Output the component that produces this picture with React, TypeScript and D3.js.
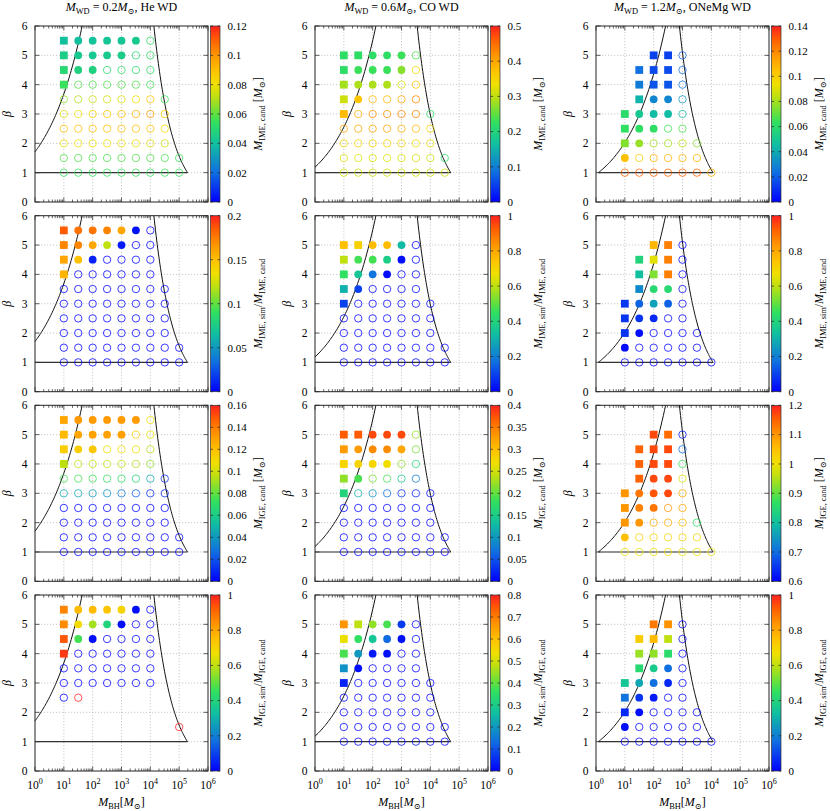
import React from 'react';
import * as d3 from 'd3';

type Row = { b: number; x0: number; m: string };
type Part = { t: string; s?: 'i' | 'sub' | 'sup' };

// white dwarf models, one per column
const wdMass = [0.2, 0.6, 1.2];
const wdName = ['He WD', 'CO WD', 'ONeMg WD'];
// log10(M_BH) where the right boundary reaches beta = 1
const rightEdge = [5.29, 4.71, 4.06];

// simulated grid: beta, first log10(M_BH), marker kind per half-decade step
// s = square, f = filled circle, o = open circle
const heGrid: Row[] = [
  { b: 5.5, x0: 1, m: 'sfffffo' },
  { b: 5, x0: 1, m: 'sffffoo' },
  { b: 4.5, x0: 1, m: 'sffoooo' },
  { b: 4, x0: 1, m: 'soooooo' },
  { b: 3.5, x0: 1, m: 'oooooooo' },
  { b: 3, x0: 1, m: 'oooooooo' },
  { b: 2.5, x0: 1, m: 'oooooooo' },
  { b: 2, x0: 1, m: 'oooooooo' },
  { b: 1.5, x0: 1, m: 'ooooooooo' },
  { b: 1, x0: 1, m: 'ooooooooo' },
];
const heIgeGrid: Row[] = [
  { b: 5.5, x0: 1, m: 'sfffffo' },
  { b: 5, x0: 1, m: 'sffffoo' },
  { b: 4.5, x0: 1, m: 'sffoooo' },
  { b: 4, x0: 1, m: 'soooooo' },
  { b: 3.5, x0: 1, m: 'ooooooo' },
  { b: 3, x0: 1, m: 'ooooooo' },
  { b: 2.5, x0: 1, m: 'oo' },
  { b: 1.5, x0: 5, m: 'o' },
];
const coGrid: Row[] = [
  { b: 5, x0: 1, m: 'ssfffo' },
  { b: 4.5, x0: 1, m: 'sffffo' },
  { b: 4, x0: 1, m: 'sfffoo' },
  { b: 3.5, x0: 1, m: 'sfoooo' },
  { b: 3, x0: 1, m: 'soooooo' },
  { b: 2.5, x0: 1, m: 'ooooooo' },
  { b: 2, x0: 1, m: 'ooooooo' },
  { b: 1.5, x0: 1, m: 'oooooooo' },
  { b: 1, x0: 1, m: 'oooooooo' },
];
const oneGrid: Row[] = [
  { b: 5, x0: 2, m: 'sso' },
  { b: 4.5, x0: 1.5, m: 'ssso' },
  { b: 4, x0: 1.5, m: 'ssso' },
  { b: 3.5, x0: 1.5, m: 'sffo' },
  { b: 3, x0: 1, m: 'sfffo' },
  { b: 2.5, x0: 1, m: 'sffoo' },
  { b: 2, x0: 1, m: 'sfoooo' },
  { b: 1.5, x0: 1, m: 'fooooo' },
  { b: 1, x0: 1, m: 'ooooooo' },
];

// He WD
const heImeCand = [
  [0.040, 0.040, 0.041, 0.042, 0.042, 0.043, 0.053],
  [0.045, 0.043, 0.043, 0.044, 0.045, 0.050, 0.053],
  [0.050, 0.047, 0.047, 0.051, 0.052, 0.052, 0.053],
  [0.055, 0.058, 0.058, 0.058, 0.058, 0.058, 0.056],
  [0.066, 0.070, 0.074, 0.075, 0.076, 0.080, 0.088, 0.056],
  [0.078, 0.080, 0.085, 0.088, 0.090, 0.092, 0.098, 0.088],
  [0.090, 0.090, 0.090, 0.090, 0.090, 0.090, 0.088, 0.082],
  [0.080, 0.080, 0.080, 0.080, 0.080, 0.080, 0.078, 0.075],
  [0.058, 0.058, 0.058, 0.058, 0.058, 0.058, 0.058, 0.058, 0.055],
  [0.055, 0.055, 0.055, 0.055, 0.055, 0.055, 0.055, 0.055, 0.055],
];
const heImeRatio = [
  [0.185, 0.178, 0.178, 0.172, 0.16, 0.005, 0],
  [0.172, 0.172, 0.16, 0.12, 0.008, 0, 0],
  [0.16, 0.15, 0.01, 0, 0, 0, 0],
  [0.155, 0, 0, 0, 0, 0, 0],
  [0, 0, 0, 0, 0, 0, 0, 0],
  [0, 0, 0, 0, 0, 0, 0, 0],
  [0, 0, 0, 0, 0, 0, 0, 0],
  [0, 0, 0, 0, 0, 0, 0, 0],
  [0, 0, 0, 0, 0, 0, 0, 0, 0],
  [0, 0, 0, 0, 0, 0, 0, 0, 0],
];
const heIgeCand = [
  [0.128, 0.132, 0.132, 0.132, 0.132, 0.132, 0.105],
  [0.122, 0.128, 0.13, 0.13, 0.13, 0.115, 0.105],
  [0.115, 0.115, 0.117, 0.108, 0.108, 0.105, 0.095],
  [0.095, 0.097, 0.097, 0.097, 0.097, 0.095, 0.088],
  [0.075, 0.075, 0.075, 0.073, 0.07, 0.065, 0.045, 0.012],
  [0.045, 0.045, 0.042, 0.038, 0.03, 0.022, 0.012, 0.008],
  [0, 0, 0, 0, 0, 0, 0, 0],
  [0, 0, 0, 0, 0, 0, 0, 0],
  [0, 0, 0, 0, 0, 0, 0, 0, 0],
  [0, 0, 0, 0, 0, 0, 0, 0, 0],
];
const heIgeRatio = [
  [0.86, 0.76, 0.76, 0.74, 0.7, 0.02, 0],
  [0.85, 0.68, 0.57, 0.4, 0.02, 0, 0],
  [0.93, 0.47, 0.02, 0, 0, 0, 0],
  [0.97, 0, 0, 0, 0, 0, 0],
  [0, 0, 0, 0, 0, 0, 0],
  [0, 0, 0, 0, 0, 0, 0],
  [0, 1],
  [1],
];

// CO WD
const coImeCand = [
  [0.22, 0.22, 0.22, 0.22, 0.23, 0.24],
  [0.22, 0.23, 0.23, 0.23, 0.27, 0.34],
  [0.285, 0.29, 0.29, 0.29, 0.32, 0.37],
  [0.31, 0.37, 0.38, 0.38, 0.4, 0.43],
  [0.38, 0.39, 0.42, 0.42, 0.43, 0.43, 0.22],
  [0.4, 0.4, 0.4, 0.4, 0.39, 0.38, 0.35],
  [0.35, 0.35, 0.35, 0.35, 0.35, 0.34, 0.33],
  [0.32, 0.32, 0.32, 0.32, 0.32, 0.32, 0.31, 0.22],
  [0.31, 0.31, 0.31, 0.31, 0.31, 0.31, 0.31, 0.31],
];
const coImeRatio = [
  [0.75, 0.71, 0.76, 0.76, 0.32, 0],
  [0.6, 0.47, 0.47, 0.38, 0.02, 0],
  [0.45, 0.35, 0.18, 0.02, 0, 0],
  [0.3, 0.1, 0, 0, 0, 0],
  [0.1, 0, 0, 0, 0, 0, 0],
  [0, 0, 0, 0, 0, 0, 0],
  [0, 0, 0, 0, 0, 0, 0],
  [0, 0, 0, 0, 0, 0, 0, 0],
  [0, 0, 0, 0, 0, 0, 0, 0],
];
const coIgeCand = [
  [0.37, 0.37, 0.38, 0.38, 0.38, 0.22],
  [0.33, 0.33, 0.34, 0.34, 0.32, 0.21],
  [0.28, 0.28, 0.28, 0.27, 0.22, 0.16],
  [0.22, 0.19, 0.21, 0.19, 0.15, 0.08],
  [0.16, 0.12, 0.1, 0.07, 0.03, 0.02, 0.01],
  [0, 0, 0, 0, 0, 0, 0],
  [0, 0, 0, 0, 0, 0, 0],
  [0, 0, 0, 0, 0, 0, 0, 0],
  [0, 0, 0, 0, 0, 0, 0, 0],
];
const coIgeRatio = [
  [0.67, 0.48, 0.44, 0.38, 0.07, 0],
  [0.53, 0.36, 0.28, 0.13, 0.02, 0],
  [0.38, 0.2, 0.03, 0.02, 0, 0],
  [0.19, 0.02, 0, 0, 0, 0],
  [0.04, 0, 0, 0, 0, 0, 0],
  [0, 0, 0, 0, 0, 0, 0],
  [0, 0, 0, 0, 0, 0, 0],
  [0, 0, 0, 0, 0, 0, 0, 0],
  [0, 0, 0, 0, 0, 0, 0, 0],
];

// ONeMg WD
const oneImeCand = [
  [0.014, 0.014, 0.02],
  [0.024, 0.016, 0.016, 0.022],
  [0.027, 0.018, 0.018, 0.025],
  [0.043, 0.03, 0.03, 0.035],
  [0.06, 0.05, 0.045, 0.045, 0.045],
  [0.063, 0.062, 0.062, 0.065, 0.067],
  [0.075, 0.078, 0.08, 0.08, 0.085, 0.075],
  [0.105, 0.1, 0.108, 0.108, 0.108, 0.108],
  [0.128, 0.128, 0.128, 0.128, 0.128, 0.128, 0.11],
];
const oneImeRatio = [
  [0.77, 0.87, 0],
  [0.4, 0.65, 0.87, 0],
  [0.33, 0.53, 0.87, 0],
  [0.22, 0.42, 0.42, 0],
  [0.08, 0.15, 0.27, 0.15, 0],
  [0.08, 0.08, 0.06, 0, 0],
  [0.08, 0.02, 0, 0, 0, 0],
  [0.02, 0, 0, 0, 0, 0],
  [0, 0, 0, 0, 0, 0, 0],
];
const oneIgeCand = [
  [1.17, 1.14, 0.62],
  [1.15, 1.17, 1.17, 0.7],
  [1.15, 1.17, 1.17, 0.88],
  [1.15, 1.17, 1.17, 0.99],
  [1.1, 1.13, 1.16, 1.17, 1.08],
  [1.1, 1.12, 1.13, 1.1, 1.08],
  [1.1, 1.1, 1.07, 1.07, 1.05, 0.87],
  [1.05, 1.03, 1.02, 1.02, 1.02, 1.02],
  [1.0, 1.0, 1.0, 1.0, 1.0, 1.0, 1.0],
];
const oneIgeRatio = [
  [0.88, 0.84, 0],
  [0.72, 0.76, 0.6, 0],
  [0.56, 0.55, 0.43, 0],
  [0.42, 0.37, 0.17, 0],
  [0.35, 0.28, 0.17, 0.06, 0],
  [0.18, 0.08, 0.04, 0, 0],
  [0.06, 0.02, 0, 0, 0, 0],
  [0.02, 0, 0, 0, 0, 0],
  [0, 0, 0, 0, 0, 0, 0],
];

const cbDomains = [
  [[0, 0.12], [0, 0.5], [0, 0.14]],
  [[0, 0.2], [0, 1], [0, 1]],
  [[0, 0.16], [0, 0.4], [0.6, 1.2]],
  [[0, 1], [0, 0.8], [0, 1]],
];
const cbSteps = [
  [0.02, 0.1, 0.02],
  [0.05, 0.2, 0.2],
  [0.02, 0.05, 0.1],
  [0.2, 0.1, 0.2],
];

const palStops = [0, 0.17, 0.33, 0.45, 0.5, 0.6, 0.67, 0.75, 0.83, 0.92, 1];
const palColors = ['#0000ff', '#1070e0', '#10c0a0', '#30e060', '#60e040', '#c0e010', '#f0e000', '#ffc000', '#ff9800', '#ff6000', '#ff2020'];

const grids = [
  [heGrid, coGrid, oneGrid],
  [heGrid, coGrid, oneGrid],
  [heGrid, coGrid, oneGrid],
  [heIgeGrid, coGrid, oneGrid],
];
const values = [
  [heImeCand, coImeCand, oneImeCand],
  [heImeRatio, coImeRatio, oneImeRatio],
  [heIgeCand, coIgeCand, oneIgeCand],
  [heIgeRatio, coIgeRatio, oneIgeRatio],
];

const M: Part = { t: 'M', s: 'i' };
const sun: Part = { t: '⊙', s: 'sub' };
const cbLabels: Part[][] = [
  [M, { t: 'IME, cand', s: 'sub' }, { t: ' [' }, M, sun, { t: ']' }],
  [M, { t: 'IME, sim', s: 'sub' }, { t: '/' }, M, { t: 'IME, cand', s: 'sub' }],
  [M, { t: 'IGE, cand', s: 'sub' }, { t: ' [' }, M, sun, { t: ']' }],
  [M, { t: 'IGE, sim', s: 'sub' }, { t: '/' }, M, { t: 'IGE, cand', s: 'sub' }],
];

// layout
const W = 830;
const H = 811;
const colLeft = [35, 315, 596];
const plotW = 173;
const rowTop = [26, 215.7, 405.3, 595];
const plotH = 176;
const FONT = "'Liberation Serif', 'DejaVu Serif', serif";

const pal = d3.scaleLinear<string>().domain(palStops).range(palColors).clamp(true);
const fmt = d3.format('~g');

function Rich({ parts, ...rest }: { parts: Part[]; [k: string]: any }) {
  let shift = 0;
  return (
    <text {...rest}>
      {parts.map((p, i) => {
        const target = p.s === 'sub' ? 3 : p.s === 'sup' ? -5 : 0;
        const dy = target - shift;
        shift = target;
        return (
          <tspan key={i} dy={dy} fontStyle={p.s === 'i' ? 'italic' : 'normal'}
            fontSize={p.s === 'sub' || p.s === 'sup' ? '0.7em' : undefined}>{p.t}</tspan>
        );
      })}
    </text>
  );
}

function Panel({ r, c }: { r: number; c: number }) {
  const left = colLeft[c];
  const top = rowTop[r];
  const right = left + plotW;
  const bottom = top + plotH;
  const x = d3.scaleLog().domain([1, 1e6]).range([left, right]);
  const y = d3.scaleLinear().domain([0, 6]).range([bottom, top]);
  const dom = cbDomains[r][c];
  const cbY = d3.scaleLinear().domain(dom).range([bottom, top]);
  const color = (v: number) => pal((v - dom[0]) / (dom[1] - dom[0]));
  const cbTicks = d3.range(dom[0], dom[1] + cbSteps[r][c] / 2, cbSteps[r][c]);

  const xt = x.ticks();
  const isMajor = (t: number) => Math.abs(Math.log10(t) - Math.round(Math.log10(t))) < 1e-9;
  const yTicks = d3.range(0, 7);

  // boundary curves
  const mwd = wdMass[c];
  const lStart = Math.max(0, Math.log10(mwd));
  const lEnd = Math.log10(mwd * 216);
  const leftPts = d3.range(0, 61).map((k) => {
    const lm = lStart + ((lEnd - lStart) * k) / 60;
    return [10 ** lm, (10 ** lm / mwd) ** (1 / 3)];
  });
  const R = rightEdge[c];
  const rStart = R - 1.5 * Math.log10(6);
  const rightPts = d3.range(0, 61).map((k) => {
    const lm = rStart + ((R - rStart) * k) / 60;
    return [10 ** lm, 10 ** (((R - lm) * 2) / 3)];
  });
  const floorPts = [[10 ** lStart, 1], [10 ** R, 1]];
  const line = d3.line<number[]>().x((d) => x(d[0])).y((d) => y(d[1]));

  const grid = grids[r][c];
  const vals = values[r][c];
  const cbX = right + 2.5;
  const cbW = 9.5;

  return (
    <g fontFamily={FONT}>
      {/* grid */}
      {[10, 100, 1e3, 1e4, 1e5].map((t) => (
        <line key={'gx' + t} x1={x(t)} x2={x(t)} y1={top} y2={bottom} stroke="#b4b4b4" strokeWidth={0.7} strokeDasharray="1.2,1.8" />
      ))}
      {[1, 2, 3, 4, 5].map((t) => (
        <line key={'gy' + t} x1={left} x2={right} y1={y(t)} y2={y(t)} stroke="#b4b4b4" strokeWidth={0.7} strokeDasharray="1.2,1.8" />
      ))}
      {/* ticks */}
      {xt.map((t, i) => {
        const len = isMajor(t) ? 4.5 : 2.5;
        return (
          <g key={'xt' + i} stroke="#222" strokeWidth={0.7}>
            <line x1={x(t)} x2={x(t)} y1={bottom} y2={bottom - len} />
            <line x1={x(t)} x2={x(t)} y1={top} y2={top + len} />
          </g>
        );
      })}
      {yTicks.map((t) => (
        <g key={'yt' + t} stroke="#222" strokeWidth={0.7}>
          <line x1={left} x2={left + 4.5} y1={y(t)} y2={y(t)} />
          <line x1={right} x2={right - 4.5} y1={y(t)} y2={y(t)} />
        </g>
      ))}
      {/* boundaries */}
      <path d={line(leftPts) || ''} fill="none" stroke="#111" strokeWidth={1} />
      <path d={line(rightPts) || ''} fill="none" stroke="#111" strokeWidth={1} />
      <path d={line(floorPts) || ''} fill="none" stroke="#333" strokeWidth={1.1} />
      {/* markers */}
      {grid.map((row, gi) =>
        row.m.split('').map((kind, k) => {
          const cx = x(10 ** (row.x0 + 0.5 * k));
          const cy = y(row.b);
          const col = color(vals[gi][k]);
          if (kind === 's') return <rect key={gi + '-' + k} x={cx - 3.9} y={cy - 3.9} width={7.8} height={7.8} fill={col} />;
          if (kind === 'f') return <circle key={gi + '-' + k} cx={cx} cy={cy} r={3.9} fill={col} />;
          return <circle key={gi + '-' + k} cx={cx} cy={cy} r={3.7} fill="none" stroke={col} strokeWidth={0.9} strokeOpacity={0.85} />;
        })
      )}
      {/* frame */}
      <rect x={left} y={top} width={plotW} height={plotH} fill="none" stroke="#222" strokeWidth={1} />
      {/* y labels */}
      {yTicks.map((t) => (
        <text key={'yl' + t} x={left - 7.5} y={y(t)} dy="0.35em" textAnchor="end" fontSize={11.5}>{t}</text>
      ))}
      <text transform={`translate(${left - 24},${(top + bottom) / 2}) rotate(-90)`} textAnchor="middle" fontSize={12} fontStyle="italic">β</text>
      {/* x labels on bottom row */}
      {r === 3 && xt.filter(isMajor).map((t) => (
        <Rich key={'xl' + t} x={x(t)} y={bottom + 18} textAnchor="middle" fontSize={11.5}
          parts={[{ t: '10' }, { t: String(Math.round(Math.log10(t))), s: 'sup' }]} />
      ))}
      {r === 3 && (
        <Rich x={(left + right) / 2} y={bottom + 35} textAnchor="middle" fontSize={12}
          parts={[M, { t: 'BH', s: 'sub' }, { t: '[' }, M, sun, { t: ']' }]} />
      )}
      {r === 0 && (
        <Rich x={(left + right) / 2} y={11} textAnchor="middle" fontSize={12}
          parts={[M, { t: 'WD', s: 'sub' }, { t: ' = ' + wdMass[c] }, M, sun, { t: ', ' + wdName[c] }]} />
      )}
      {/* colorbar */}
      <rect x={cbX} y={top} width={cbW} height={plotH} fill="url(#palGrad)" stroke="#333" strokeWidth={0.7} />
      {cbTicks.map((t, i) => (
        <g key={'cb' + i}>
          <line x1={cbX} x2={cbX + 2.5} y1={cbY(t)} y2={cbY(t)} stroke="#222" strokeWidth={0.7} />
          <line x1={cbX + cbW} x2={cbX + cbW - 2.5} y1={cbY(t)} y2={cbY(t)} stroke="#222" strokeWidth={0.7} />
          <text x={cbX + cbW + 7.5} y={cbY(t)} dy="0.35em" fontSize={11}>{fmt(+t.toFixed(6))}</text>
        </g>
      ))}
      <Rich transform={`translate(${right + 54},${(top + bottom) / 2}) rotate(-90)`} x={0} y={0}
        textAnchor="middle" fontSize={12} parts={cbLabels[r]} />
    </g>
  );
}

export default function App() {
  const rows = d3.range(4);
  const cols = d3.range(3);
  return (
    <div style={{ position: 'absolute', left: 0, top: 0 }}>
      <svg width={W} height={H} style={{ display: 'block', background: '#fff' }}>
        <defs>
          <linearGradient id="palGrad" x1="0" y1="1" x2="0" y2="0">
            {palStops.map((s, i) => (
              <stop key={i} offset={s} stopColor={palColors[i]} />
            ))}
          </linearGradient>
        </defs>
        {rows.map((r) => cols.map((c) => <Panel key={r + '-' + c} r={r} c={c} />))}
      </svg>
    </div>
  );
}
